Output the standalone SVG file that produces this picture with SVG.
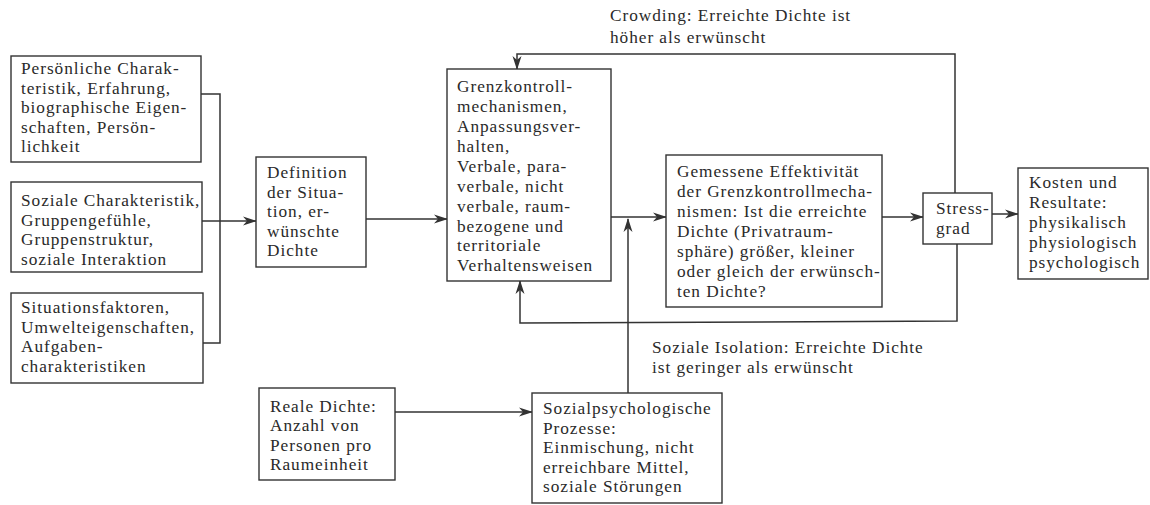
<svg xmlns="http://www.w3.org/2000/svg" width="1150" height="505" viewBox="0 0 1150 505">
<style>
  .box { fill: #ffffff; stroke: #333333; stroke-width: 1.4; }
  .t { font-family: "Liberation Serif", "Times New Roman", serif; font-size: 17.3px; letter-spacing: 0.95px; fill: #2a2a2a; }
  .ln { fill: none; stroke: #333333; stroke-width: 1.5; }
</style>
<defs>
  <marker id="arr" viewBox="0 0 14 10" refX="13" refY="5" markerWidth="14" markerHeight="10" markerUnits="userSpaceOnUse" orient="auto">
    <path d="M0,0.5 L14,5 L0,9.5 L4,5 Z" fill="#333333"/>
  </marker>
</defs>
<rect width="1150" height="505" fill="#ffffff"/>

<g id="connectors">
  <polyline class="ln" points="201,94 220,94 220,343 203,343"/>
  <line class="ln" x1="202" y1="221" x2="256" y2="221" marker-end="url(#arr)"/>
  <line class="ln" x1="366" y1="219" x2="447" y2="219" marker-end="url(#arr)"/>
  <line class="ln" x1="611" y1="217" x2="666" y2="217" marker-end="url(#arr)"/>
  <line class="ln" x1="628" y1="393" x2="628" y2="219" marker-end="url(#arr)"/>
  <line class="ln" x1="882" y1="217" x2="923" y2="217" marker-end="url(#arr)"/>
  <line class="ln" x1="992" y1="214" x2="1018" y2="214" marker-end="url(#arr)"/>
  <polyline class="ln" points="955,193 955,54 517,54 517,69" marker-end="url(#arr)"/>
  <polyline class="ln" points="957,244 957,321 520,323 520,281" marker-end="url(#arr)"/>
  <line class="ln" x1="395" y1="412" x2="532" y2="412" marker-end="url(#arr)"/>
</g>

<g id="label-crowding">
  <text class="t" x="610" y="21">Crowding: Erreichte Dichte ist</text>
  <text class="t" x="610" y="43">höher als erwünscht</text>
</g>
<g id="label-isolation">
  <text class="t" x="652" y="353">Soziale Isolation: Erreichte Dichte</text>
  <text class="t" x="652" y="372.5">ist geringer als erwünscht</text>
</g>

<g id="node-persoenlich">
  <rect class="box" x="11" y="56" width="190" height="106"/>
  <text class="t" x="21" y="74">Persönliche Charak-</text>
  <text class="t" x="21" y="93.5">teristik, Erfahrung,</text>
  <text class="t" x="21" y="113">biographische Eigen-</text>
  <text class="t" x="21" y="132.5">schaften, Persön-</text>
  <text class="t" x="21" y="152">lichkeit</text>
</g>

<g id="node-sozial">
  <rect class="box" x="11" y="182" width="191" height="90"/>
  <text class="t" x="21" y="206">Soziale Charakteristik,</text>
  <text class="t" x="21" y="225.5">Gruppengefühle,</text>
  <text class="t" x="21" y="245">Gruppenstruktur,</text>
  <text class="t" x="21" y="264.5">soziale Interaktion</text>
</g>

<g id="node-situation">
  <rect class="box" x="11" y="293" width="192" height="90"/>
  <text class="t" x="21" y="313">Situationsfaktoren,</text>
  <text class="t" x="21" y="332.5">Umwelteigenschaften,</text>
  <text class="t" x="21" y="352">Aufgaben-</text>
  <text class="t" x="21" y="371.5">charakteristiken</text>
</g>

<g id="node-definition">
  <rect class="box" x="256" y="157" width="110" height="110"/>
  <text class="t" x="267" y="178">Definition</text>
  <text class="t" x="267" y="197.5">der Situa-</text>
  <text class="t" x="267" y="217">tion, er-</text>
  <text class="t" x="267" y="236.5">wünschte</text>
  <text class="t" x="267" y="256">Dichte</text>
</g>

<g id="node-grenzkontrolle">
  <rect class="box" x="447" y="69" width="164" height="212"/>
  <text class="t" x="457" y="92">Grenzkontroll-</text>
  <text class="t" x="457" y="112">mechanismen,</text>
  <text class="t" x="457" y="132">Anpassungsver-</text>
  <text class="t" x="457" y="152">halten,</text>
  <text class="t" x="457" y="172">Verbale, para-</text>
  <text class="t" x="457" y="191.5">verbale, nicht</text>
  <text class="t" x="457" y="211.5">verbale, raum-</text>
  <text class="t" x="457" y="231.5">bezogene und</text>
  <text class="t" x="457" y="251">territoriale</text>
  <text class="t" x="457" y="271">Verhaltensweisen</text>
</g>

<g id="node-effektivitaet">
  <rect class="box" x="666" y="155" width="216" height="152"/>
  <text class="t" x="677" y="177">Gemessene Effektivität</text>
  <text class="t" x="677" y="197">der Grenzkontrollmecha-</text>
  <text class="t" x="677" y="217">nismen: Ist die erreichte</text>
  <text class="t" x="677" y="237">Dichte (Privatraum-</text>
  <text class="t" x="677" y="257">sphäre) größer, kleiner</text>
  <text class="t" x="677" y="277">oder gleich der erwünsch-</text>
  <text class="t" x="677" y="297">ten Dichte?</text>
</g>

<g id="node-stress">
  <rect class="box" x="923" y="193" width="69" height="51"/>
  <text class="t" x="936" y="214">Stress-</text>
  <text class="t" x="936" y="234">grad</text>
</g>

<g id="node-kosten">
  <rect class="box" x="1018" y="168" width="130" height="111"/>
  <text class="t" x="1029" y="188">Kosten und</text>
  <text class="t" x="1029" y="208">Resultate:</text>
  <text class="t" x="1029" y="228">physikalisch</text>
  <text class="t" x="1029" y="248">physiologisch</text>
  <text class="t" x="1029" y="268">psychologisch</text>
</g>

<g id="node-reale-dichte">
  <rect class="box" x="259" y="388" width="136" height="92"/>
  <text class="t" x="270" y="412">Reale Dichte:</text>
  <text class="t" x="270" y="431">Anzahl von</text>
  <text class="t" x="270" y="450.5">Personen pro</text>
  <text class="t" x="270" y="470">Raumeinheit</text>
</g>

<g id="node-sozialpsych">
  <rect class="box" x="532" y="393" width="190" height="110"/>
  <text class="t" x="543" y="414">Sozialpsychologische</text>
  <text class="t" x="543" y="433.5">Prozesse:</text>
  <text class="t" x="543" y="453">Einmischung, nicht</text>
  <text class="t" x="543" y="472.5">erreichbare Mittel,</text>
  <text class="t" x="543" y="492">soziale Störungen</text>
</g>
</svg>
